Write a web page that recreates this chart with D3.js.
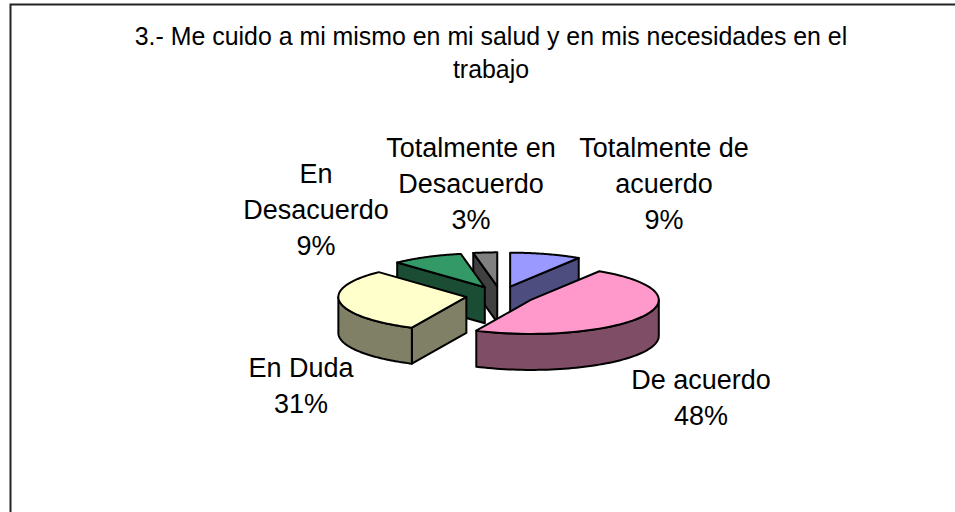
<!DOCTYPE html>
<html>
<head>
<meta charset="utf-8">
<script src="https://cdn.jsdelivr.net/npm/d3@7"></script>
<style>
  html, body { margin: 0; padding: 0; background: #fff; }
  text { font-family: "Liberation Sans", Arial, sans-serif; fill: #000; }
</style>
</head>
<body>
<div id="chart"></div>
<script>
// values
var categories = ["Totalmente de acuerdo", "De acuerdo", "En Duda", "En Desacuerdo", "Totalmente en Desacuerdo"];
var values = [9, 48, 31, 9, 3];
var topColors = ["#9999ff", "#ff99cc", "#ffffcc", "#339966", "#808080"];
var sideColors = ["#4d4d80", "#804d66", "#808066", "#1a4d33", "#404040"];
var titleLines = ["3.- Me cuido a mi mismo en mi salud y en mis necesidades en el", "trabajo"];
// one row per text line, last line of each label is the percent
var labelLines = [
  ["Totalmente de", "acuerdo", "9%"],
  ["De acuerdo", "48%"],
  ["En Duda", "31%"],
  ["En", "Desacuerdo", "9%"],
  ["Totalmente en", "Desacuerdo", "3%"]
];
var labelAnchors = [[664, 157], [701, 389], [301, 377], [316, 183], [471, 157]];

var width = 955, height = 512;
var cx = 500.5, cy = 295.5, rx = 128, ry = 34, depth = 36, explode = 0.27;

var svg = d3.select("#chart").append("svg")
    .attr("width", width)
    .attr("height", height)
    .style("display", "block");

// frame, open on the right and at the bottom
svg.append("path")
    .attr("d", "M10.5,512V4.5H955")
    .attr("fill", "none")
    .attr("stroke", "#222")
    .attr("stroke-width", 2);

// title
svg.append("g").selectAll("text")
  .data(titleLines)
  .enter().append("text")
    .attr("x", 491)
    .attr("y", function(d, i) { return 45 + i * 33; })
    .attr("text-anchor", "middle")
    .attr("font-size", 24.9)
    .text(function(d) { return d; });

var pie = d3.pie().sort(null).value(function(d) { return d; });
var arcs = pie(values);

function px(c, a) { return c.x + rx * Math.sin(a); }
function py(c, a) { return c.y - ry * Math.cos(a); }
var line = d3.line().x(function(d) { return d[0]; }).y(function(d) { return d[1]; });

function arcPoints(c, a0, a1, dy) {
  return d3.range(0, 61).map(function(i) {
    var a = a0 + (a1 - a0) * i / 60;
    return [px(c, a), py(c, a) + dy];
  });
}

function cutFace(g, c, a, k) {
  g.append("path")
    .attr("d", line([[c.x, c.y], [px(c, a), py(c, a)], [px(c, a), py(c, a) + depth], [c.x, c.y + depth]]) + "Z")
    .attr("fill", sideColors[k]);
}

// back slices first, pink one goes last
var order = [0, 4, 3, 2, 1];
order.forEach(function(k) {
  var d = arcs[k];
  var mid = (d.startAngle + d.endAngle) / 2;
  var c = { x: cx + explode * rx * Math.sin(mid), y: cy - explode * ry * Math.cos(mid) };
  var g = svg.append("g")
      .attr("stroke", "#000")
      .attr("stroke-width", 2)
      .attr("stroke-linejoin", "round");

  // cut faces, only the ones turned to the viewer
  if (Math.sin(d.startAngle) < 0) cutFace(g, c, d.startAngle, k);
  if (Math.sin(d.endAngle) > 0.001) cutFace(g, c, d.endAngle, k);

  // outer wall, only the part that looks to the front
  var a0 = Math.max(d.startAngle, Math.PI / 2), a1 = Math.min(d.endAngle, Math.PI * 1.5);
  if (a1 > a0) {
    g.append("path")
      .attr("d", line(arcPoints(c, a0, a1, 0).concat(arcPoints(c, a1, a0, depth))) + "Z")
      .attr("fill", sideColors[k]);
  }

  // top
  g.append("path")
    .attr("d", line([[c.x, c.y]].concat(arcPoints(c, d.startAngle, d.endAngle, 0))) + "Z")
    .attr("fill", topColors[k]);
});

// labels
labelLines.forEach(function(lines, k) {
  svg.append("g").selectAll("text")
    .data(lines)
    .enter().append("text")
      .attr("x", labelAnchors[k][0])
      .attr("y", function(d, i) { return labelAnchors[k][1] + i * 36; })
      .attr("text-anchor", "middle")
      .attr("font-size", 27)
      .text(function(d) { return d; });
});
</script>
</body>
</html>
